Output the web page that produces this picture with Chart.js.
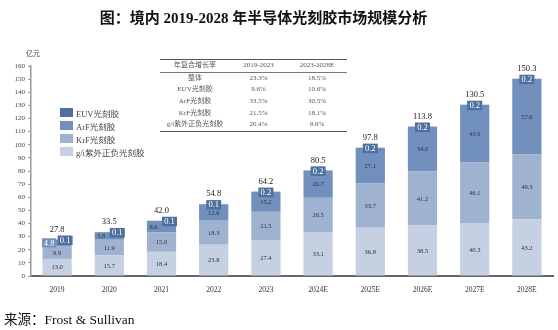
<!DOCTYPE html>
<html>
<head>
<meta charset="utf-8">
<script src="https://cdn.jsdelivr.net/npm/chart.js@4.4.1/dist/chart.umd.min.js"></script>
<style>
  body { margin: 0; background: #fff; }
  #wrap { position: relative; width: 558px; height: 330px; font-family: 'Liberation Serif', 'Noto Sans CJK SC', serif; color: #222; }
  #chart { position: absolute; left: 0; top: 0; }
  #title { position: absolute; left: 0; width: 527px; top: 6px; text-align: center; font-size: 15px; font-weight: bold; color: #111; }
  #unit { position: absolute; left: 26px; top: 48px; font-size: 7px; color: #444; }
  #source { position: absolute; left: 4px; top: 308px; font-size: 13.5px; color: #111; }
  #legend { position: absolute; left: 60px; top: 106px; font-size: 8.5px; color: #444; }
  #legend div { height: 13px; display: flex; align-items: center; }
  #legend span.box { display: inline-block; width: 13px; height: 9px; margin-right: 3px; }
  #cagr { position: absolute; left: 160px; top: 59px; width: 187px; border-collapse: collapse; font-size: 7px; color: #555; }
  #cagr td { height: 11.6px; padding: 0; text-align: center; line-height: 11px; }
  #cagr tr:first-child td { border-top: 1px solid #555; border-bottom: 1px solid #777; }
  #cagr tr:last-child td { border-bottom: 1px solid #555; }
</style>
</head>
<body>
<div id="wrap">
  <canvas id="chart" width="558" height="330"></canvas>
  <div id="title">图：境内 2019-2028 年半导体光刻胶市场规模分析</div>
  <div id="unit">亿元</div>
  <table id="cagr"></table>
  <div id="legend"></div>
  <div id="source">来源：Frost &amp; Sullivan</div>
</div>
<script>
// 境内光刻胶市场规模（亿元）
const years = ['2019', '2020', '2021', '2022', '2023', '2024E', '2025E', '2026E', '2027E', '2028E'];
const giValues  = [13.0, 15.7, 18.4, 23.8, 27.4, 33.1, 36.8, 38.5, 40.3, 43.2];
const krfValues = [9.9, 11.9, 15.0, 18.3, 21.5, 26.5, 33.7, 41.2, 46.1, 49.3];
const arfValues = [4.8, 5.8, 8.6, 12.6, 15.2, 20.7, 27.1, 34.0, 43.9, 57.6];
const euvValues = [0.1, 0.1, 0.1, 0.1, 0.2, 0.2, 0.2, 0.2, 0.2, 0.2];
const totals    = [27.8, 33.5, 42.0, 54.8, 64.2, 80.5, 97.8, 113.8, 130.5, 150.3];
const yTicks    = [0, 10, 20, 30, 40, 50, 60, 70, 80, 90, 100, 110, 120, 130, 140, 150, 160];

// 年复合增长率表
const cagrHeader = ['年复合增长率', '2019-2023', '2023-2028E'];
const cagrRows   = ['整体', 'EUV光刻胶', 'ArF光刻胶', 'KrF光刻胶', 'g/i紫外正负光刻胶'];
const cagr1923   = ['23.3%', '9.6%', '33.5%', '21.5%', '20.4%'];
const cagr2328   = ['18.5%', '10.6%', '30.5%', '18.1%', '9.6%'];

const colors = { euv: '#4f6f9f', arf: '#7190bd', krf: '#9fb2d0', gi: '#c5d0e2' };
const serif = "'Liberation Serif', 'Noto Sans CJK SC', serif";

// table
const table = document.getElementById('cagr');
const rows = [cagrHeader].concat(cagrRows.map((name, i) => [name, cagr1923[i], cagr2328[i]]));
rows.forEach(r => {
  const tr = document.createElement('tr');
  r.forEach((cell, j) => {
    const td = document.createElement('td');
    td.textContent = cell;
    td.style.width = j === 0 ? '70px' : (j === 1 ? '57px' : '60px');
    tr.appendChild(td);
  });
  table.appendChild(tr);
});

// legend
const legendItems = [
  ['EUV光刻胶', colors.euv],
  ['ArF光刻胶', colors.arf],
  ['KrF光刻胶', colors.krf],
  ['g/i紫外正负光刻胶', colors.gi]
];
const legend = document.getElementById('legend');
legendItems.forEach(([label, c]) => {
  const d = document.createElement('div');
  d.innerHTML = '<span class="box" style="background:' + c + '"></span>' + label;
  legend.appendChild(d);
});

// segment values, EUV tags and totals
const barLabels = {
  id: 'barLabels',
  afterDatasetsDraw(chart) {
    const ctx = chart.ctx;
    ctx.save();
    ctx.textAlign = 'center';
    ctx.textBaseline = 'middle';

    // lower three segments
    [0, 1, 2].forEach(di => {
      const meta = chart.getDatasetMeta(di);
      meta.data.forEach((bar, i) => {
        const v = chart.data.datasets[di].data[i];
        const h = bar.base - bar.y;
        let x = bar.x;
        const y = (bar.y + bar.base) / 2;
        if (di === 2 && i < 3) x -= 8;
        ctx.font = '6.5px ' + serif;
        if (h < 7) {
          ctx.fillStyle = colors.arf;
          ctx.fillRect(x - 7, y - 4.5, 14, 9);
          ctx.fillStyle = '#fff';
          ctx.font = '8.5px ' + serif;
        } else {
          ctx.fillStyle = '#333';
        }
        ctx.fillText(v.toFixed(1), x, y + 0.5);
      });
    });

    // EUV tags and total above each bar
    const euvMeta = chart.getDatasetMeta(3);
    euvMeta.data.forEach((bar, i) => {
      const top = bar.y;
      const x = i < 3 ? bar.x + 8 : bar.x;
      ctx.fillStyle = colors.euv;
      ctx.fillRect(x - 7.5, top - 4, 15, 9.5);
      ctx.fillStyle = '#fff';
      ctx.font = '8.5px ' + serif;
      ctx.fillText(euvValues[i].toFixed(1), x, top + 1);

      ctx.fillStyle = '#222';
      ctx.font = '8.5px ' + serif;
      ctx.fillText(totals[i].toFixed(1), bar.x, top - 10);
    });
    ctx.restore();
  }
};

new Chart(document.getElementById('chart'), {
  type: 'bar',
  data: {
    labels: years,
    datasets: [
      { label: 'g/i紫外正负光刻胶', data: giValues, backgroundColor: colors.gi },
      { label: 'KrF光刻胶', data: krfValues, backgroundColor: colors.krf },
      { label: 'ArF光刻胶', data: arfValues, backgroundColor: colors.arf },
      { label: 'EUV光刻胶', data: euvValues, backgroundColor: colors.euv }
    ]
  },
  options: {
    responsive: false,
    animation: false,
    devicePixelRatio: 1,
    barPercentage: 0.56,
    categoryPercentage: 1,
    layout: { padding: { left: 0, right: 5, top: 66, bottom: 14 } },
    plugins: {
      legend: { display: false },
      tooltip: { enabled: false }
    },
    scales: {
      x: {
        stacked: true,
        grid: { display: false },
        border: { color: '#666', width: 2 },
        ticks: { color: '#333', font: { family: serif, size: 7.5 }, padding: 2 },
        afterFit: s => { s.height = 40; }
      },
      y: {
        stacked: true,
        min: 0,
        max: 160,
        afterBuildTicks: s => { s.ticks = yTicks.map(v => ({ value: v })); },
        grid: { display: true, drawOnChartArea: false, drawTicks: true, tickLength: 3, color: '#999' },
        border: { color: '#999', width: 1.5 },
        ticks: { color: '#444', font: { family: serif, size: 7 }, padding: 3 },
        afterFit: s => { s.width = 31; }
      }
    }
  },
  plugins: [barLabels]
});
</script>
</body>
</html>
